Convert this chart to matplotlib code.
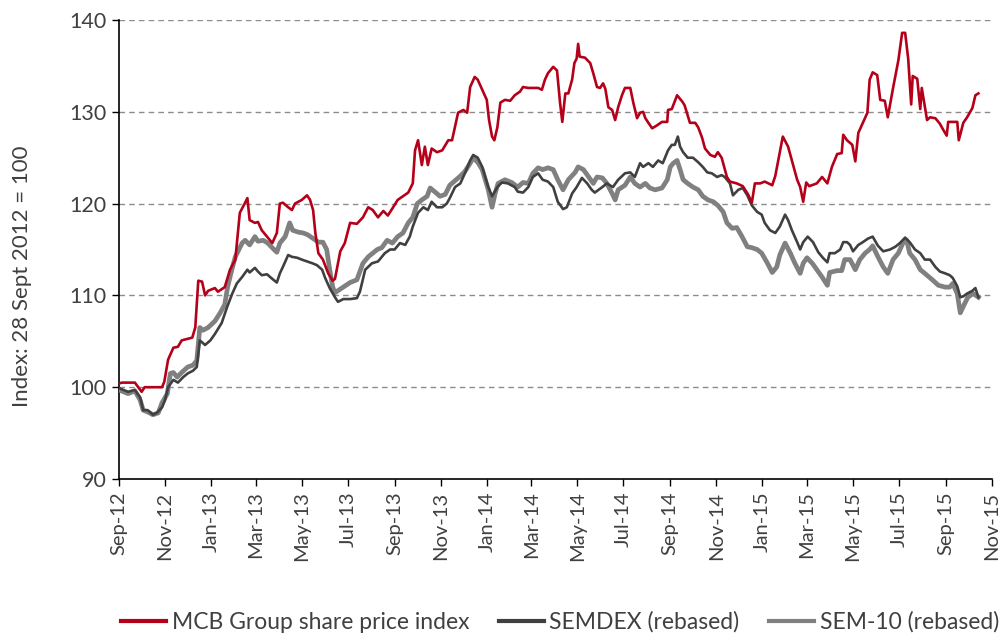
import numpy as np
import matplotlib
matplotlib.use("Agg")
import matplotlib.pyplot as plt
from matplotlib.lines import Line2D
import datetime as dt

# ---- data (days since 28 Sept 2012, index value) ----
base_date = dt.date(2012, 9, 28)

mcb_day = [0, 4, 21, 30, 34, 57, 60, 65, 72, 78, 83, 97, 101, 105, 110, 114, 118, 127, 131, 140,
           147, 154, 160, 167, 170, 173, 180, 184, 189, 196, 203, 209, 213, 217, 224, 229, 233, 242,
           249, 253, 257, 260, 264, 270, 277, 283, 286, 293, 299, 306, 315, 323, 330, 336, 343, 350,
           356, 363, 369, 376, 383, 389, 392, 396, 401, 405, 409, 414, 421, 428, 436, 441, 449, 456,
           461, 465, 471, 475, 481, 487, 490, 494, 497, 501, 505, 511, 518, 524, 531, 535, 542, 555,
           560, 564, 568, 575, 580, 584, 587, 591, 595, 600, 603, 606, 608, 610, 617, 624, 628, 633,
           637, 641, 644, 648, 653, 657, 661, 666, 670, 677, 681, 686, 690, 694, 697, 701, 706, 712,
           719, 726, 727, 732, 739, 746, 749, 756, 763, 767, 772, 776, 783, 789, 793, 798, 805, 809,
           818, 826, 833, 838, 842, 849, 855, 865, 869, 873, 879, 886, 892, 898, 902, 906, 910, 914,
           924, 931, 938, 944, 951, 957, 959, 964, 971, 975, 979, 985, 991, 994, 998, 1004, 1008,
           1014, 1018, 1025, 1032, 1037, 1041, 1045, 1049, 1051, 1057, 1061, 1063, 1070, 1074, 1081,
           1087, 1091, 1096, 1098, 1104, 1110, 1112, 1118, 1123, 1130, 1134, 1138]
mcb_val = [100.4, 100.5, 100.5, 99.5, 100.0, 100.0, 100.6, 103.0, 104.3, 104.4, 105.1, 105.4, 106.5,
           111.6, 111.5, 110.0, 110.5, 110.8, 110.4, 110.9, 112.8, 113.9, 119.0, 120.1, 120.6, 118.2,
           117.9, 118.0, 117.1, 116.4, 115.7, 116.8, 120.0, 120.1, 119.6, 119.3, 120.0, 120.4, 120.9,
           120.4, 119.3, 116.8, 114.6, 113.9, 112.4, 111.6, 111.8, 114.8, 115.7, 117.9, 117.8, 118.5,
           119.6, 119.3, 118.5, 119.2, 118.7, 119.6, 120.4, 120.8, 121.2, 122.2, 125.8, 126.9, 124.2,
           126.2, 124.2, 126.0, 125.6, 125.8, 126.9, 126.9, 129.9, 130.2, 129.9, 132.7, 133.8, 133.5,
           132.4, 131.3, 129.1, 127.3, 126.9, 128.3, 131.0, 131.3, 131.2, 131.8, 132.2, 132.7, 132.6,
           132.6, 132.4, 133.5, 134.2, 134.9, 134.5, 131.0, 128.9, 132.0, 132.0, 133.5, 135.3, 135.8,
           137.4, 136.0, 135.9, 135.3, 134.2, 132.7, 132.6, 133.1, 132.5, 130.5, 130.2, 129.1, 130.5,
           131.8, 132.6, 132.6, 131.0, 129.3, 129.9, 130.0, 129.3, 128.8, 128.2, 128.5, 128.9, 128.9,
           130.2, 130.3, 131.8, 131.1, 130.7, 128.8, 128.8, 128.3, 127.2, 126.0, 125.3, 125.1, 125.6,
           125.0, 122.9, 122.4, 122.2, 121.9, 121.0, 120.1, 122.2, 122.2, 122.4, 122.0, 123.0, 124.7,
           127.3, 126.2, 124.4, 122.6, 121.8, 120.2, 122.3, 121.9, 122.2, 122.9, 122.2, 124.0, 125.4,
           125.5, 127.5, 126.9, 126.4, 124.6, 127.7, 128.8, 129.9, 133.5, 134.3, 134.0, 131.3, 131.2,
           129.4, 132.6, 135.6, 138.6, 138.6, 135.8, 130.8, 133.9, 133.6, 130.3, 132.6, 129.1, 129.4,
           129.3, 128.7, 128.1, 127.4, 128.9, 128.9, 128.9, 126.9, 128.8, 129.4, 130.4, 131.8, 132.0]

semdex_day = [0, 12, 21, 28, 32, 38, 45, 50, 57, 61, 65, 72, 78, 85, 91, 98, 103, 107, 114, 121,
              127, 136, 143, 150, 156, 163, 170, 173, 180, 184, 189, 196, 203, 209, 213, 217, 224,
              229, 236, 242, 249, 256, 262, 269, 273, 279, 286, 290, 297, 306, 315, 319, 326, 335,
              343, 352, 359, 365, 372, 379, 385, 389, 396, 403, 409, 414, 421, 428, 434, 438, 445,
              452, 458, 465, 469, 475, 481, 485, 489, 494, 501, 507, 515, 524, 528, 535, 542, 548,
              555, 561, 568, 575, 581, 588, 593, 600, 606, 613, 620, 626, 630, 640, 646, 654, 661,
              670, 677, 683, 690, 694, 701, 707, 714, 720, 727, 732, 736, 740, 743, 747, 753, 760,
              767, 773, 779, 785, 792, 798, 802, 809, 813, 820, 826, 832, 838, 845, 851, 855, 862,
              869, 875, 882, 886, 891, 898, 902, 906, 912, 919, 926, 932, 938, 941, 948, 955, 959,
              964, 968, 972, 979, 985, 992, 998, 1005, 1012, 1021, 1028, 1034, 1041, 1047, 1054,
              1061, 1067, 1074, 1081, 1087, 1094, 1100, 1104, 1110, 1114, 1118, 1123, 1130, 1134,
              1138]
semdex_val = [99.9, 99.5, 99.7, 98.9, 97.5, 97.5, 97.0, 97.2, 97.8, 98.6, 100.0, 100.8, 100.5,
              101.1, 101.5, 101.8, 102.2, 105.1, 104.6, 105.1, 105.8, 107.0, 108.7, 110.2, 111.3,
              112.0, 112.8, 112.5, 113.0, 112.6, 112.2, 112.3, 111.8, 111.4, 112.4, 113.1, 114.4,
              114.2, 114.1, 113.9, 113.7, 113.5, 113.3, 112.8, 111.9, 110.8, 109.8, 109.3, 109.6,
              109.6, 109.7, 110.4, 112.8, 113.5, 113.7, 114.6, 115.0, 115.0, 115.7, 115.5, 116.4,
              117.5, 119.0, 119.6, 119.3, 120.2, 119.6, 119.6, 120.0, 120.6, 121.8, 122.2, 123.3,
              124.7, 125.3, 125.0, 124.0, 122.9, 121.8, 120.8, 121.8, 122.3, 122.2, 121.8, 121.3,
              121.2, 121.8, 122.9, 123.3, 122.6, 122.4, 121.8, 120.2, 119.4, 119.6, 121.1, 121.8,
              122.8, 122.2, 121.5, 121.2, 121.8, 122.2, 121.8, 122.6, 123.3, 123.4, 122.9, 124.4,
              124.0, 124.4, 124.0, 124.7, 124.4, 125.8, 126.4, 126.4, 127.3, 126.2, 125.6, 125.0,
              125.0, 124.5, 124.0, 123.4, 123.3, 122.9, 123.1, 122.9, 122.2, 120.9, 121.5, 121.7,
              120.9, 119.8, 119.1, 118.8, 117.9, 117.1, 116.8, 117.5, 118.8, 118.2, 117.1, 115.8,
              115.0, 115.8, 116.4, 115.8, 114.7, 114.1, 113.6, 114.6, 114.6, 115.0, 115.8, 115.8,
              115.5, 114.8, 115.5, 115.8, 116.2, 116.4, 115.4, 114.8, 115.0, 115.3, 115.7, 116.3,
              115.8, 115.0, 114.6, 113.9, 113.9, 113.1, 112.6, 112.4, 112.2, 111.9, 111.0, 109.8,
              109.9, 110.2, 110.5, 110.8, 109.8]

sem10_day = [0, 12, 21, 28, 32, 38, 45, 52, 57, 64, 68, 72, 77, 83, 91, 98, 103, 107, 111, 118,
             127, 134, 140, 144, 150, 154, 163, 167, 173, 180, 184, 191, 197, 204, 209, 213, 220,
             226, 230, 237, 244, 250, 257, 264, 270, 275, 279, 283, 286, 297, 306, 315, 323, 330,
             336, 342, 348, 355, 362, 369, 376, 383, 389, 395, 401, 408, 412, 418, 425, 432, 438,
             445, 452, 458, 465, 469, 475, 481, 485, 489, 494, 498, 502, 511, 520, 528, 535, 542,
             548, 555, 561, 568, 575, 581, 588, 595, 604, 608, 615, 622, 628, 633, 640, 646, 653,
             657, 661, 670, 677, 683, 690, 697, 703, 710, 719, 726, 730, 734, 739, 743, 747, 753,
             760, 767, 773, 780, 787, 793, 800, 805, 812, 818, 825, 832, 838, 845, 851, 858, 865,
             871, 875, 882, 889, 895, 902, 906, 911, 918, 924, 931, 938, 941, 951, 957, 961, 968,
             975, 981, 988, 994, 998, 1005, 1012, 1018, 1025, 1032, 1038, 1043, 1047, 1054, 1061,
             1067, 1077, 1085, 1094, 1100, 1104, 1110, 1114, 1118, 1124, 1131, 1138]
sem10_val = [99.7, 99.3, 99.6, 98.6, 97.5, 97.3, 97.0, 97.2, 98.3, 99.3, 101.5, 101.6, 101.1,
             101.6, 102.2, 102.4, 102.9, 106.5, 106.2, 106.5, 107.2, 108.1, 109.0, 111.0, 113.0,
             114.2, 115.7, 116.0, 115.5, 116.4, 115.9, 116.0, 115.7, 115.1, 114.7, 115.7, 116.4,
             117.9, 117.1, 116.9, 116.8, 116.6, 116.2, 115.8, 115.8, 115.0, 112.8, 110.9, 110.3,
             110.9, 111.4, 111.7, 113.5, 114.2, 114.6, 115.0, 115.2, 116.0, 115.7, 116.4, 116.8,
             117.9, 118.5, 120.0, 120.4, 120.8, 121.7, 121.3, 120.8, 121.0, 122.0, 122.5, 123.0,
             123.5, 124.4, 125.0, 124.5, 123.7, 122.6, 121.5, 119.6, 121.1, 122.2, 122.6, 122.3,
             121.8, 122.3, 122.2, 123.3, 123.9, 123.7, 123.9, 123.7, 122.6, 121.5, 122.6, 123.4,
             124.0, 123.7, 122.9, 122.2, 122.9, 122.8, 122.2, 121.1, 120.4, 121.5, 122.0, 122.9,
             122.2, 121.8, 122.2, 121.7, 121.5, 121.7, 122.6, 124.0, 124.4, 124.7, 123.7, 122.6,
             122.2, 121.8, 121.5, 120.8, 120.4, 120.2, 119.8, 119.1, 117.9, 117.3, 117.4, 116.4,
             115.3, 115.2, 115.0, 114.6, 113.6, 112.5, 113.1, 114.4, 115.7, 114.6, 113.5, 112.4,
             113.5, 114.1, 113.5, 112.8, 112.0, 111.1, 112.5, 112.7, 112.7, 113.9, 113.9, 112.8,
             113.9, 114.6, 115.0, 115.4, 114.2, 113.1, 112.4, 113.9, 114.6, 115.7, 116.0, 114.6,
             113.9, 112.8, 112.4, 111.7, 111.1, 110.9, 110.9, 111.3, 110.2, 108.1, 108.8, 109.8,
             110.2, 109.8]

series_labels = ["MCB Group share price index", "SEMDEX (rebased)", "SEM-10 (rebased)"]
y_ticks = [90, 100, 110, 120, 130, 140]
y_label = "Index: 28 Sept 2012 = 100"

# ---- styling ----
FONT = "Lato"
TXT = "#404040"
C_MCB = "#B5001A"
C_SEMDEX = "#404040"
C_SEM10 = "#808080"

def to_dates(days):
    b = np.datetime64(base_date)
    return b + np.array(days).astype("timedelta64[D]")

fig = plt.figure(figsize=(10.08, 6.36), dpi=100)
ax = fig.add_axes([119/1008, 1-479/636, (992-119)/1008, (479-20)/636])

ax.plot(to_dates(sem10_day), sem10_val, color=C_SEM10, lw=3.4, solid_joinstyle="round", zorder=3)
ax.plot(to_dates(semdex_day), semdex_val, color=C_SEMDEX, lw=1.9, solid_joinstyle="round", zorder=4)
ax.plot(to_dates(mcb_day), mcb_val, color=C_MCB, lw=1.9, solid_joinstyle="round", zorder=5)

# x axis: ticks every two months on the 28th
tick_dates = []
for k in range(20):
    m = 9 + 2 * k
    y = 2012 + (m - 1) // 12
    mm = (m - 1) % 12 + 1
    tick_dates.append(np.datetime64(dt.date(y, mm, 28)))
ax.set_xlim(tick_dates[0], tick_dates[-1])
ax.set_xticks(tick_dates)
ax.set_xticklabels([d.astype(dt.date).strftime("%b-%y") for d in tick_dates],
                   rotation=90, fontsize=14.5, color=TXT, family=FONT)

ax.set_ylim(90, 140)
ax.set_yticks(y_ticks)
ax.set_yticklabels([str(v) for v in y_ticks], fontsize=15.5, color=TXT, family=FONT)

for v in y_ticks[1:]:
    ax.axhline(v, color="#8c8c8c", lw=1.0, ls=(0, (4, 3)), zorder=1)

for s in ["top", "right"]:
    ax.spines[s].set_visible(False)
for s in ["left", "bottom"]:
    ax.spines[s].set_color("black")
    ax.spines[s].set_linewidth(1.2)
ax.tick_params(axis="both", direction="out", length=5, width=1.0, color="black", pad=4)

fig.text(22/1008, 1-276/636, y_label, rotation=90, ha="center", va="center",
         fontsize=16, color=TXT, family=FONT)

handles = [Line2D([], [], color=C_MCB, lw=3.0),
           Line2D([], [], color=C_SEMDEX, lw=3.0),
           Line2D([], [], color=C_SEM10, lw=3.0)]
leg = fig.legend(handles, series_labels, loc="center", bbox_to_anchor=(560/1008, 1-622/636),
                 ncol=3, frameon=False, handlelength=1.95, handletextpad=0.25, columnspacing=1.3,
                 borderpad=0.1, prop={"family": FONT, "size": 16.5})
for t in leg.get_texts():
    t.set_color(TXT)

fig.savefig("out.png", dpi=100)
